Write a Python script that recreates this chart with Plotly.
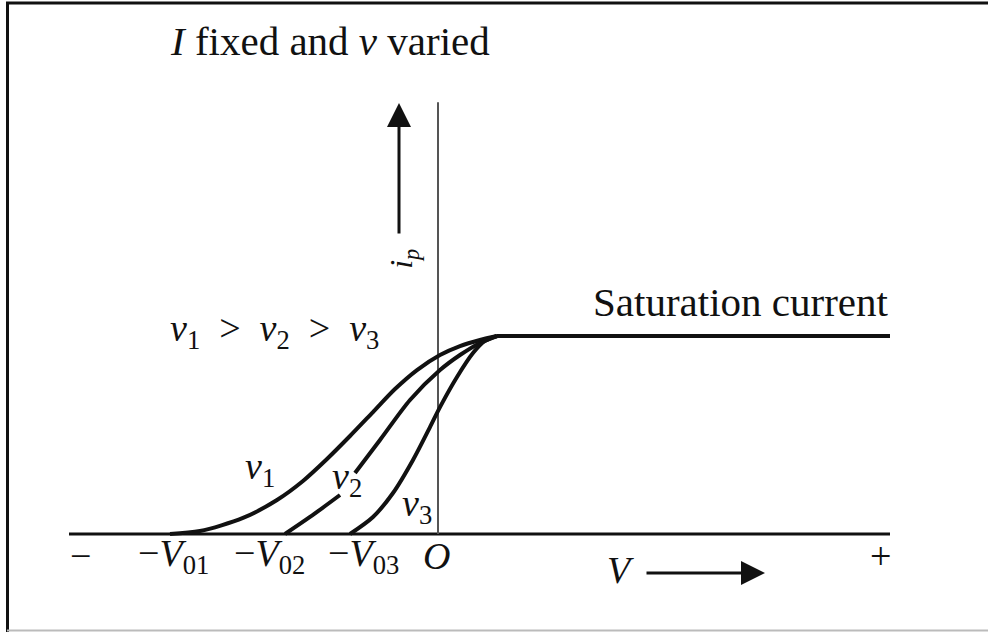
import plotly.graph_objects as go

# Plate current i_p against anode voltage V for a diode with the filament
# current I held fixed and the filament voltage v varied (v1 > v2 > v3).
# V is in arbitrary units (cut-off voltages -V01, -V02, -V03 to the left of O),
# i_p is normalised so the saturation current is 1.

# ---- curves -----------------------------------------------------------------
v1_V = [-2.68, -2.38, -1.95, -1.61, -1.35, -1.11, -0.88, -0.65, -0.43, -0.21, 0.02, 0.22, 0.42, 0.59]
v1_i = [0.000, 0.015, 0.081, 0.172, 0.268, 0.379, 0.495, 0.616, 0.732, 0.828, 0.904, 0.949, 0.980, 1.000]

# the v2 curve is broken where its label sits
v2_V = [-1.53, -1.28, -0.98, None, -0.83, -0.58, -0.28, 0.02, 0.22, 0.42, 0.59]
v2_i = [0.000, 0.086, 0.197, None, 0.308, 0.475, 0.677, 0.828, 0.904, 0.965, 1.000]

v3_V = [-0.88, -0.65, -0.45, -0.25, -0.08, 0.02, 0.19, 0.35, 0.47, 0.59]
v3_i = [0.000, 0.086, 0.207, 0.374, 0.540, 0.641, 0.793, 0.914, 0.975, 1.000]

sat_V = [0.59, 4.52]
sat_i = [1.000, 1.000]

# ---- axes -------------------------------------------------------------------
V_AXIS = [-3.69, 4.52]       # horizontal V axis extent
IP_AXIS = [0.0, 2.18]        # vertical line through O
IP_ARROW_V = -0.39           # i_p direction arrow, drawn beside the axis
IP_ARROW = [1.51, 2.177]
V_ARROW = [2.07, 3.27]       # V direction arrow below the axis
V_ARROW_I = -0.197

# tick labels along the V axis (centre positions)
tick_text = ["\u2212",
             "\u2212<i>V</i><sub>01</sub>",
             "\u2212<i>V</i><sub>02</sub>",
             "\u2212<i>V</i><sub>03</sub>",
             "<i>O</i>",
             "+"]
tick_pos = [-3.58, -2.65, -1.69, -0.75, -0.02, 4.42]
TICK_ROW = -0.112

curve_labels = ["<i>v</i><sub>1</sub>", "<i>v</i><sub>2</sub>", "<i>v</i><sub>3</sub>"]
curve_label_V = [-1.95, -1.08, -0.38]
curve_label_i = [0.328, 0.278, 0.141]

FONT = "Liberation Serif, Times New Roman, serif"
INK = "#111111"
FS = 38

fig = go.Figure()

for xs, ys in ((v1_V, v1_i), (v2_V, v2_i), (v3_V, v3_i)):
    fig.add_trace(go.Scatter(x=xs, y=ys, mode="lines", connectgaps=False,
                             line=dict(color=INK, width=4, shape="spline", smoothing=0.8),
                             hoverinfo="skip"))
fig.add_trace(go.Scatter(x=sat_V, y=sat_i, mode="lines",
                         line=dict(color=INK, width=4), hoverinfo="skip"))

# axis lines
fig.add_shape(type="line", xref="x", yref="y", x0=V_AXIS[0], x1=V_AXIS[1], y0=0, y1=0,
              line=dict(color=INK, width=3), layer="below")
fig.add_shape(type="line", xref="x", yref="y", x0=0, x1=0, y0=IP_AXIS[0], y1=IP_AXIS[1],
              line=dict(color="#555555", width=2), layer="below")

# direction arrows
fig.add_annotation(x=IP_ARROW_V, y=IP_ARROW[1], ax=IP_ARROW_V, ay=IP_ARROW[0],
                   xref="x", yref="y", axref="x", ayref="y", text="", showarrow=True,
                   arrowhead=2, arrowsize=1.6, arrowwidth=3, arrowcolor=INK, standoff=0)
fig.add_annotation(x=V_ARROW[1], y=V_ARROW_I, ax=V_ARROW[0], ay=V_ARROW_I,
                   xref="x", yref="y", axref="x", ayref="y", text="", showarrow=True,
                   arrowhead=2, arrowsize=1.6, arrowwidth=3, arrowcolor=INK, standoff=0)

def label(x, y, text, xanchor="left", size=FS, angle=0):
    fig.add_annotation(x=x, y=y, xref="x", yref="y", text=text, showarrow=False,
                       xanchor=xanchor, yanchor="middle", textangle=angle,
                       font=dict(family=FONT, size=size, color=INK))

label(-2.70, 2.49, "<i>I</i> fixed and <i>v</i> varied", size=41)
label(4.52, 1.172, "Saturation current", xanchor="right", size=41)
label(-2.70, 1.025,
      "<i>v</i><sub>1</sub>\u2002>\u2002<i>v</i><sub>2</sub>\u2002>\u2002<i>v</i><sub>3</sub>")
for t, x, y in zip(curve_labels, curve_label_V, curve_label_i):
    label(x, y, t)
for t, x in zip(tick_text, tick_pos):
    label(x, TICK_ROW, t, xanchor="center")
label(1.82, -0.182, "<i>V</i>", xanchor="center")
label(-0.34, 1.39, "<i>i</i><sub><i>p</i></sub>", xanchor="center", size=32, angle=-90)

# page frame
fig.add_shape(type="line", xref="paper", yref="paper", x0=6 / 988, x1=1, y0=1 - 3 / 632, y1=1 - 3 / 632,
              line=dict(color=INK, width=3))
fig.add_shape(type="line", xref="paper", yref="paper", x0=7.5 / 988, x1=7.5 / 988, y0=0, y1=1 - 2 / 632,
              line=dict(color=INK, width=3))
fig.add_shape(type="line", xref="paper", yref="paper", x0=7 / 988, x1=1, y0=1.5 / 632, y1=1.5 / 632,
              line=dict(color="#bbbbbb", width=2))

fig.update_layout(
    width=988, height=632,
    margin=dict(l=0, r=0, t=0, b=0),
    paper_bgcolor="white", plot_bgcolor="white",
    showlegend=False, hovermode=False,
    xaxis=dict(range=[-4.38, 5.50], visible=False, fixedrange=True),
    yaxis=dict(range=[-0.4949, 2.697], visible=False, fixedrange=True),
)

fig.write_html("out.html", config={"displayModeBar": False})
